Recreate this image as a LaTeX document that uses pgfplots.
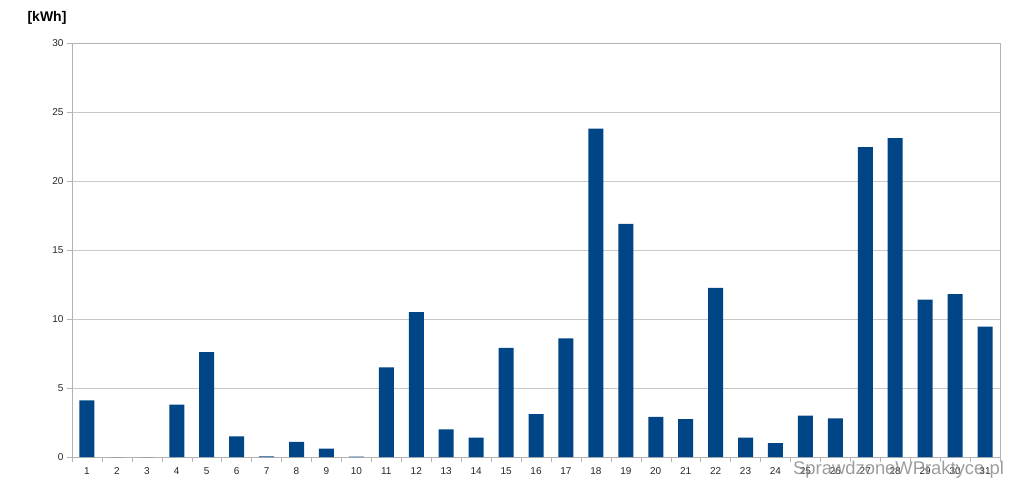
\documentclass[border=0pt]{standalone}
\usepackage{fontspec}
\setmainfont{Liberation Sans}
\usepackage{pgfplots}
\pgfplotsset{compat=1.18}
\definecolor{barblue}{RGB}{0,69,134}
\definecolor{gridgray}{RGB}{200,200,200}
\definecolor{axgray}{RGB}{179,179,179}

\begin{document}
\begin{tikzpicture}
  \path[use as bounding box] (-72pt,-42pt) rectangle (952pt,457pt);
  \begin{axis}[
    at={(0,0)}, anchor=south west,
    scale only axis,
    width=928pt, height=414pt,
    ybar, bar width=15pt,
    xmin=0.5, xmax=31.5,
    ymin=0, ymax=30,
    xtick={1,...,31},
    ytick={0,5,...,30},
    minor xtick={0.5,1.5,...,31.5},
    xtick pos=bottom, ytick pos=left,
    major x tick style={draw=none},
    minor x tick style={draw=axgray, thin},
    y tick style={draw=axgray, thin},
    tick align=outside,
    major tick length=5pt, minor tick length=5pt,
    ymajorgrids, grid style={gridgray, thin},
    axis line style={axgray, thin},
    tick label style={font=\fontsize{10}{12}\selectfont, text=black!85},
    /pgf/number format/assume math mode=true,
    xticklabel style={yshift=-2pt},
    clip=false,
  ]
    \addplot[fill=barblue, draw=none] coordinates {
      (1,4.1) (2,0) (3,0) (4,3.8) (5,7.6) (6,1.5) (7,0.05) (8,1.1)
      (9,0.6) (10,0.02) (11,6.5) (12,10.5) (13,2.0) (14,1.4) (15,7.9)
      (16,3.1) (17,8.6) (18,23.8) (19,16.9) (20,2.9) (21,2.75) (22,12.25)
      (23,1.4) (24,1.0) (25,3.0) (26,2.8) (27,22.45) (28,23.1) (29,11.4)
      (30,11.8) (31,9.45)
    };
    \node[font=\bfseries\fontsize{14}{16}\selectfont, anchor=center]
      at ([xshift=-25pt,yshift=25pt]rel axis cs:0,1) {[kWh]};
    \node[font=\fontsize{18.4}{20}\selectfont, text=black!45, opacity=0.85,
      anchor=west, inner sep=0pt]
      at ([xshift=721pt,yshift=-13pt]rel axis cs:0,0) {SprawdzoneWPraktyce.pl};
  \end{axis}
\end{tikzpicture}
\end{document}
